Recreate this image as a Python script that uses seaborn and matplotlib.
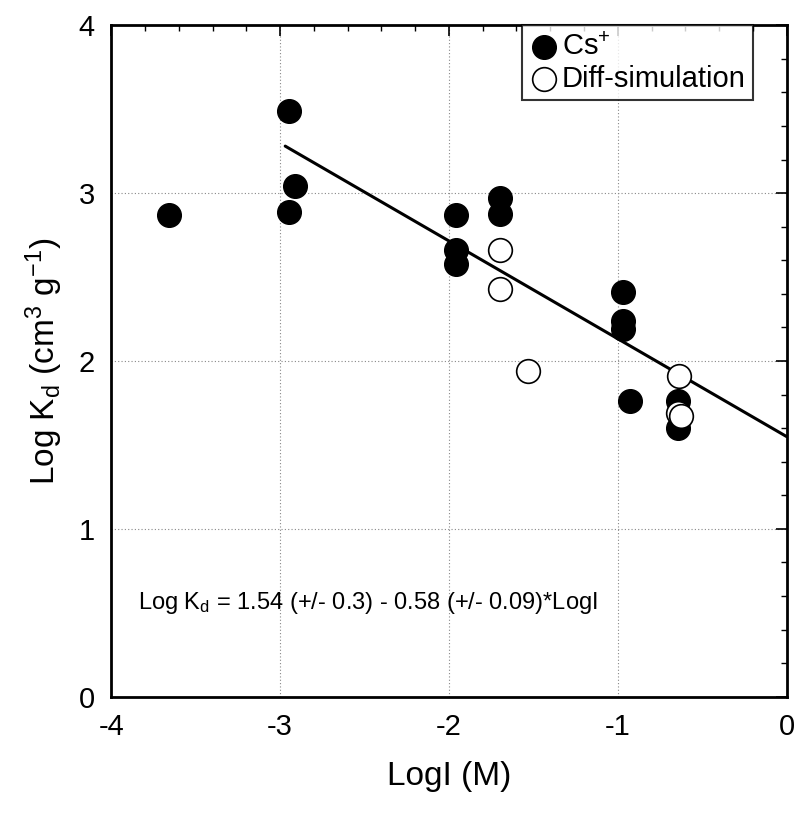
import pandas as pd
import seaborn as sns
import matplotlib.pyplot as plt
from matplotlib.ticker import MultipleLocator

# measured Cs+ points
cs_logi = [-3.66, -2.95, -2.95, -2.91, -1.96, -1.96, -1.96, -1.70, -1.70,
           -0.97, -0.97, -0.97, -0.93, -0.645, -0.645]
cs_logkd = [2.87, 3.49, 2.89, 3.04, 2.87, 2.66, 2.58, 2.97, 2.875,
            2.41, 2.24, 2.19, 1.76, 1.76, 1.60]

# diffusion simulation points
sim_logi = [-1.70, -1.70, -1.53, -0.64, -0.645, -0.625]
sim_logkd = [2.66, 2.43, 1.94, 1.91, 1.69, 1.67]

# regression line end points
fit_logi = [-2.97, 0.0]
fit_logkd = [3.28, 1.55]

df = pd.DataFrame({
    'LogI': cs_logi + sim_logi,
    'LogKd': cs_logkd + sim_logkd,
    'series': ['Cs'] * len(cs_logi) + ['Diff'] * len(sim_logi),
})
fit = pd.DataFrame({'LogI': fit_logi, 'LogKd': fit_logkd})

sns.set_style('white')
plt.rcParams['font.family'] = ['Liberation Sans', 'DejaVu Sans']
plt.rcParams['mathtext.fontset'] = 'custom'
plt.rcParams['mathtext.rm'] = 'Liberation Sans'
plt.rcParams['mathtext.it'] = 'Liberation Sans'
plt.rcParams['axes.unicode_minus'] = False
plt.rcParams['text.color'] = 'black'
plt.rcParams['axes.labelcolor'] = 'black'
plt.rcParams['xtick.color'] = 'black'
plt.rcParams['ytick.color'] = 'black'

fig = plt.figure(figsize=(8.01, 8.14), dpi=100)
ax = fig.add_axes([0.139, 0.144, 0.843, 0.825])

sns.lineplot(data=fit, x='LogI', y='LogKd', color='black', lw=2.2, ax=ax, legend=False)
sns.scatterplot(data=df[df.series == 'Cs'], x='LogI', y='LogKd', color='black',
                edgecolor='black', s=290, linewidth=1, ax=ax, label='Cs$^{+}$', zorder=3)
sns.scatterplot(data=df[df.series == 'Diff'], x='LogI', y='LogKd', color='white',
                edgecolor='black', s=290, linewidth=1.2, ax=ax, label='Diff-simulation', zorder=4)

ax.set_xlim(-4, 0)
ax.set_ylim(0, 4)
ax.xaxis.set_major_locator(MultipleLocator(1))
ax.yaxis.set_major_locator(MultipleLocator(1))
ax.xaxis.set_minor_locator(MultipleLocator(0.2))
ax.yaxis.set_minor_locator(MultipleLocator(0.2))
ax.tick_params(which='both', direction='in', top=True, right=True)
ax.tick_params(which='major', length=8, width=1.2, labelsize=21, pad=12)
ax.tick_params(which='minor', length=4, width=1)
ax.grid(True, which='major', color='#888888', linestyle=(0, (1, 2)), linewidth=0.8)
for s in ax.spines.values():
    s.set_linewidth(2)
    s.set_color('black')

ax.set_xlabel('LogI (M)', fontsize=24, labelpad=14)
ax.set_ylabel(r'Log K$_{\mathrm{d}}$ (cm$^{3}$ g$^{-1}$)', fontsize=24, labelpad=10)

ax.text(-3.84, 0.52, r'Log K$_{\mathrm{d}}$ = 1.54 (+/- 0.3) - 0.58 (+/- 0.09)*LogI',
        fontsize=17)

leg = ax.legend(loc='upper right', bbox_to_anchor=(0.95, 1.0), fontsize=21,
                frameon=True, fancybox=False, edgecolor='black', handletextpad=0.1,
                borderpad=0.25, labelspacing=0.15, handlelength=1.0, borderaxespad=0)
leg.get_frame().set_linewidth(1.5)

fig.savefig('out.png', dpi=100)
